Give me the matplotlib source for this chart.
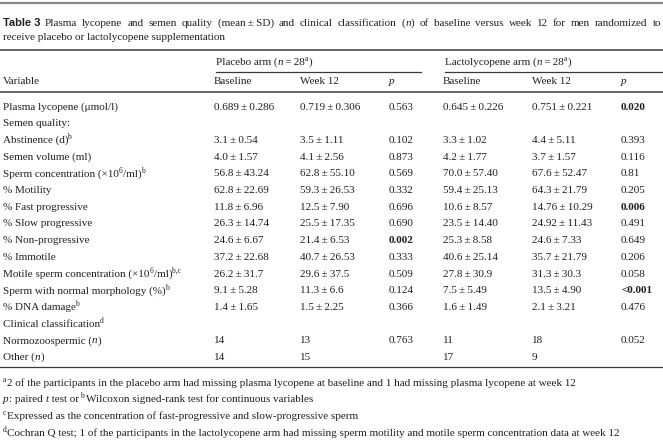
import re
import matplotlib.pyplot as plt

plt.rcParams['font.family'] = 'Liberation Serif'

# ^{..} marks a superscript, $..$ marks italic
variables = ['Plasma lycopene (\u03bcmol/l)', 'Semen quality:', 'Abstinence (d)^{b}',
             'Semen volume (ml)', 'Sperm concentration (\u00d710^{6}/ml)^{b}',
             '% Motility', '% Fast progressive', '% Slow progressive', '% Non-progressive',
             '% Immotile', 'Motile sperm concentration (\u00d710^{6}/ml)^{b,c}',
             'Sperm with normal morphology (%)^{b}', '% DNA damage^{b}',
             'Clinical classification^{d}', 'Normozoospermic ($n$)', 'Other ($n$)']
placebo_base = ['0.689\u00b10.286', '', '3.1\u00b10.54', '4.0\u00b11.57', '56.8\u00b143.24',
                '62.8\u00b122.69', '11.8\u00b16.96', '26.3\u00b114.74', '24.6\u00b16.67', '37.2\u00b122.68',
                '26.2\u00b131.7', '9.1\u00b15.28', '1.4\u00b11.65', '', '14', '14']
placebo_wk12 = ['0.719\u00b10.306', '', '3.5\u00b11.11', '4.1\u00b12.56', '62.8\u00b155.10',
                '59.3\u00b126.53', '12.5\u00b17.90', '25.5\u00b117.35', '21.4\u00b16.53', '40.7\u00b126.53',
                '29.6\u00b137.5', '11.3\u00b16.6', '1.5\u00b12.25', '', '13', '15']
placebo_p = ['0.563', '', '0.102', '0.873', '0.569', '0.332', '0.696', '0.690', '0.002', '0.333',
             '0.509', '0.124', '0.366', '', '0.763', '']
lacto_base = ['0.645\u00b10.226', '', '3.3\u00b11.02', '4.2\u00b11.77', '70.0\u00b157.40',
              '59.4\u00b125.13', '10.6\u00b18.57', '23.5\u00b114.40', '25.3\u00b18.58', '40.6\u00b125.14',
              '27.8\u00b130.9', '7.5\u00b15.49', '1.6\u00b11.49', '', '11', '17']
lacto_wk12 = ['0.751\u00b10.221', '', '4.4\u00b15.11', '3.7\u00b11.57', '67.6\u00b152.47',
              '64.3\u00b121.79', '14.76\u00b110.29', '24.92\u00b111.43', '24.6\u00b17.33', '35.7\u00b121.79',
              '31.3\u00b130.3', '13.5\u00b14.90', '2.1\u00b13.21', '', '18', '9']
lacto_p = ['0.020', '', '0.393', '0.116', '0.81', '0.205', '0.006', '0.491', '0.649', '0.206',
           '0.058', '<0.001', '0.476', '', '0.052', '']
bold_placebo = ['0.002']
bold_lacto = ['0.020', '0.006', '<0.001']

caption1 = ['Plasma', 'lycopene', 'and', 'semen', 'quality', '(mean\u2009\u00b1\u2009SD)', 'and', 'clinical',
            'classification', '($n$)', 'of', 'baseline', 'versus', 'week', '12', 'for', 'men',
            'randomized', 'to']
caption2 = 'receive placebo or lactolycopene supplementation'
header_arms = ['Placebo arm ($n$\u2009=\u200928^{a})', 'Lactolycopene arm ($n$\u2009=\u200928^{a})']
header_cols = ['Variable', 'Baseline', 'Week 12', '$p$', 'Baseline', 'Week 12', '$p$']

footnotes = ['^{a}2 of the participants in the placebo arm had missing plasma lycopene at baseline and 1 had missing plasma lycopene at week 12',
             '$p$: paired $t$ test or ^{b}Wilcoxon signed-rank test for continuous variables',
             '^{c}Expressed as the concentration of fast-progressive and slow-progressive sperm',
             '^{d}Cochran Q test; 1 of the participants in the lactolycopene arm had missing sperm motility and motile sperm concentration data at week 12']

pm = lambda lst: [s.replace('\u00b1', '\u2009\u00b1\u2009') for s in lst]
placebo_base, placebo_wk12 = pm(placebo_base), pm(placebo_wk12)
lacto_base, lacto_wk12 = pm(lacto_base), pm(lacto_wk12)

W, H = 663, 448
fig = plt.figure(figsize=(W / 100, H / 100), dpi=100)
ax = fig.add_axes([0, 0, 1, 1])
ax.set_xlim(0, W)
ax.set_ylim(H, 0)
ax.axis('off')
renderer = fig.canvas.get_renderer()

tc = '#231f20'
fs = 8.0
bl = 3.6  # offset from row centre to text baseline


def put(x, y, s, **kw):
    # draws text run by run: superscripts smaller and raised, $..$ in italic
    out = []
    for p in re.split(r'(\^\{.*?\}|\$.*?\$)', s):
        if not p:
            continue
        size, dy, style = fs, 0, 'normal'
        if p.startswith('^{'):
            p, size, dy = p[2:-1], fs * 0.68, -3.8
        elif p.startswith('$'):
            p, style = p[1:-1], 'italic'
        t = ax.text(x, y + bl + dy, p, fontsize=size, style=style, color=tc, va='baseline', **kw)
        out.append(t)
        x += t.get_window_extent(renderer).width + (0.4 if size < fs else 0.2 if style == 'italic' else 0)
    return out


# caption, first line justified
put(3, 22.5, 'Table 3', family='Liberation Sans', weight='bold')
words = [put(0, 22.5, w) for w in caption1]
widths = [sum(t.get_window_extent(renderer).width for t in ts) for ts in words]
x0, x1 = 45, 661
gap = (x1 - x0 - sum(widths)) / (len(words) - 1)
x = x0
for ts, w in zip(words, widths):
    xx = x
    for t in ts:
        t.set_x(xx)
        xx += t.get_window_extent(renderer).width
    x += w + gap
put(3, 36, caption2)

# rules
ax.plot([0, W], [3, 3], color='#8c8c8c', lw=1.6)
ax.plot([0, W], [50, 50], color='#3a3a3a', lw=1.1)
ax.plot([216, 421], [72, 72], color='#3a3a3a', lw=0.9)
ax.plot([445, W], [72, 72], color='#3a3a3a', lw=0.9)
ax.plot([0, W], [92.5, 92.5], color='#3a3a3a', lw=1.1)
ax.plot([0, W], [367.5, 367.5], color='#3a3a3a', lw=0.9)

# header
xs = [3, 214, 300, 389, 443, 532, 621]
put(216, 61, header_arms[0])
put(445, 61, header_arms[1])
for x, h in zip(xs, header_cols):
    put(x, 80.5, h)

# body
cols = [variables, placebo_base, placebo_wk12, placebo_p, lacto_base, lacto_wk12, lacto_p]
for i in range(len(variables)):
    y = 106 + i * 16.7
    for j, col in enumerate(cols):
        s = col[i]
        if not s:
            continue
        bold = (j == 3 and s in bold_placebo) or (j == 6 and s in bold_lacto)
        put(xs[j], y, s, weight='bold' if bold else 'normal')

for k, f in enumerate(footnotes):
    put(3, 382 + k * 16.7, f)

fig.savefig('out.png', dpi=100)
